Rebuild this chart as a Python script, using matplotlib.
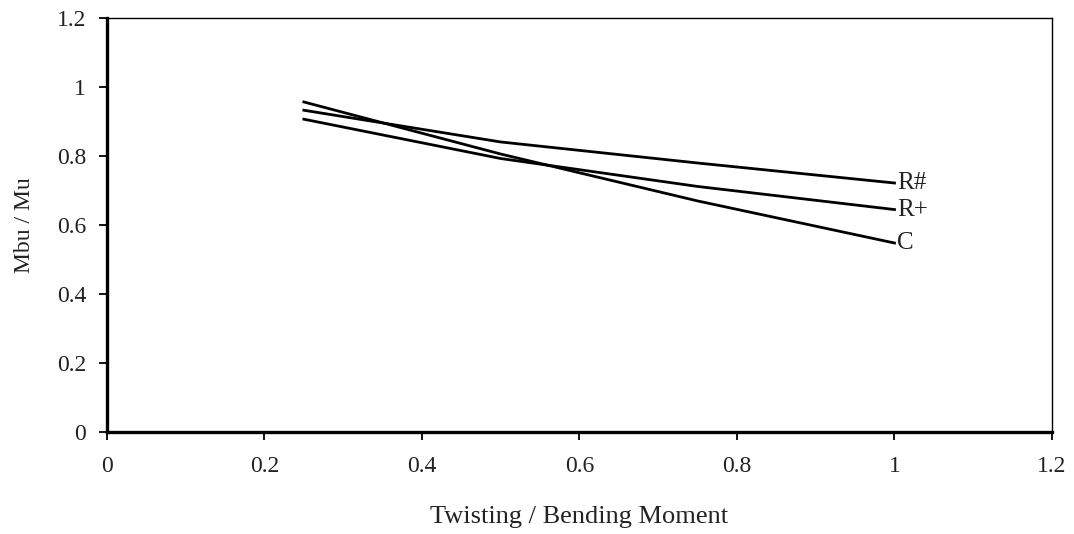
import matplotlib
matplotlib.use("Agg")
import matplotlib.pyplot as plt

# Ratio of twisting to bending moment
ratio = [0.25, 0.5, 0.75, 1.0]

# Mbu / Mu for each beam type
r_hash = [0.933, 0.841, 0.780, 0.722]
r_plus = [0.907, 0.793, 0.712, 0.645]
c_vals = [0.957, 0.806, 0.670, 0.548]

series = [("R#", r_hash), ("R+", r_plus), ("C", c_vals)]

xticks = [0, 0.2, 0.4, 0.6, 0.8, 1.0, 1.2]
xtick_labels = ["0", "0.2", "0.4", "0.6", "0.8", "1", "1.2"]
yticks = [0, 0.2, 0.4, 0.6, 0.8, 1.0, 1.2]
ytick_labels = ["0", "0.2", "0.4", "0.6", "0.8", "1", "1.2"]

plt.rcParams["font.family"] = ["Liberation Serif", "DejaVu Serif"]
text_color = "#222222"

fig = plt.figure(figsize=(10.74, 5.34), dpi=100)
ax = fig.add_axes([0.0996, 0.191, 0.8799, 0.775])

for name, vals in series:
    ax.plot(ratio, vals, color="black", linewidth=2.0)
    ax.text(ratio[-1] + 0.003, vals[-1], name, fontsize=18,
            ha="left", va="center", color=text_color)

ax.set_xlim(0, 1.2)
ax.set_ylim(0, 1.2)
ax.set_xticks(xticks)
ax.set_xticklabels(xtick_labels)
ax.set_yticks(yticks)
ax.set_yticklabels(ytick_labels)

ax.tick_params(axis="both", direction="out", length=6, width=1.3,
               labelsize=17, colors="black", labelcolor=text_color)
ax.tick_params(axis="x", pad=11)
ax.tick_params(axis="y", pad=9)

ax.spines["left"].set_linewidth(2.4)
ax.spines["bottom"].set_linewidth(2.4)
ax.spines["top"].set_linewidth(1.0)
ax.spines["right"].set_linewidth(1.0)

ax.set_xlabel("Twisting / Bending Moment", fontsize=19, color=text_color)
ax.set_ylabel("Mbu / Mu", fontsize=17, color=text_color)
ax.xaxis.set_label_coords(0.5, -0.178)
ax.yaxis.set_label_coords(-0.076, 0.5)

fig.savefig("out.png", dpi=100)
